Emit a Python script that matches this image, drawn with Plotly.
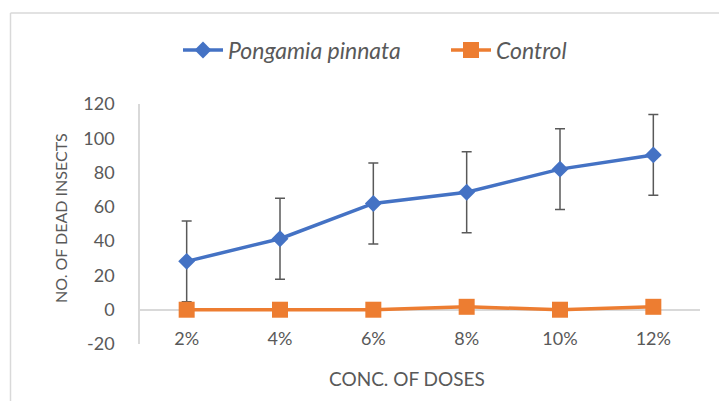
import plotly.graph_objects as go

categories = ["2%", "4%", "6%", "8%", "10%", "12%"]
pongamia = [28.2, 41.4, 62.0, 68.5, 82.0, 90.3]
pongamia_err = [23.6, 23.6, 23.6, 23.6, 23.6, 23.6]
control = [0, 0, 0, 1.7, 0, 1.7]
y_tick_values = [-20, 0, 20, 40, 60, 80, 100, 120]
y_tick_labels = ["-20", "0", "20", "40", "60", "80", "100", "120"]

FONT = "Lato"
GREY = "#595959"

fig = go.Figure()
fig.add_trace(go.Scatter(
    x=categories, y=pongamia, name="<i>Pongamia pinnata</i>", mode="lines+markers",
    line=dict(color="#4472C4", width=3.5),
    marker=dict(symbol="diamond", size=13, color="#4472C4"),
    error_y=dict(type="data", array=pongamia_err, visible=True, color=GREY, thickness=1.5, width=5),
))
fig.add_trace(go.Scatter(
    x=categories, y=control, name="<i>Control</i>", mode="lines+markers",
    line=dict(color="#ED7D31", width=3.5),
    marker=dict(symbol="square", size=16, color="#ED7D31"),
))

# plot area x 140..700, y 104..344
def px(x):
    return (x - 140) / 560
def py(y):
    return (344 - y) / 240

fig.add_shape(type="line", xref="paper", yref="paper", x0=px(10.5), x1=px(719), y0=py(13), y1=py(13),
              line=dict(color="#d9d9d9", width=1.5))
fig.add_shape(type="line", xref="paper", yref="paper", x0=px(10.5), x1=px(10.5), y0=py(13), y1=py(401),
              line=dict(color="#d9d9d9", width=1.5))

fig.add_annotation(text="CONC. OF DOSES", xref="paper", yref="paper", x=px(407), y=py(378),
                   xanchor="center", yanchor="middle",
                   showarrow=False, font=dict(family=FONT, size=19, color=GREY))
fig.add_annotation(text="NO. OF DEAD INSECTS", xref="paper", yref="paper", x=px(60), y=py(218),
                   xanchor="center", yanchor="middle",
                   showarrow=False, textangle=-90, font=dict(family=FONT, size=16, color=GREY))

fig.update_layout(
    width=719, height=401,
    margin=dict(l=140, r=19, t=104, b=57, autoexpand=False),
    paper_bgcolor="white", plot_bgcolor="white",
    font=dict(family=FONT, color=GREY),
    showlegend=True,
    legend=dict(orientation="h", x=px(178), xanchor="left", y=py(50), yanchor="middle",
                font=dict(family=FONT, size=23, color=GREY), itemwidth=40,
                entrywidth=213, entrywidthmode="pixels"),
    xaxis=dict(range=[-0.5, 5.5], showgrid=False, showline=False, zeroline=False, ticks="",
               tickfont=dict(family=FONT, size=18, color=GREY),
               ticklabelstandoff=-18),
    yaxis=dict(range=[-20, 120], tickvals=y_tick_values, ticktext=y_tick_labels,
               showgrid=False, showline=True, linecolor="#d9d9d9", linewidth=1.5,
               zeroline=True, zerolinecolor="#d9d9d9", zerolinewidth=1.5,
               ticks="", ticklabelstandoff=20,
               tickfont=dict(family=FONT, size=18, color=GREY)),
)

fig.write_html("out.html", config={"displayModeBar": False},
               post_script="document.body.style.margin='0';document.body.style.overflow='hidden';")
